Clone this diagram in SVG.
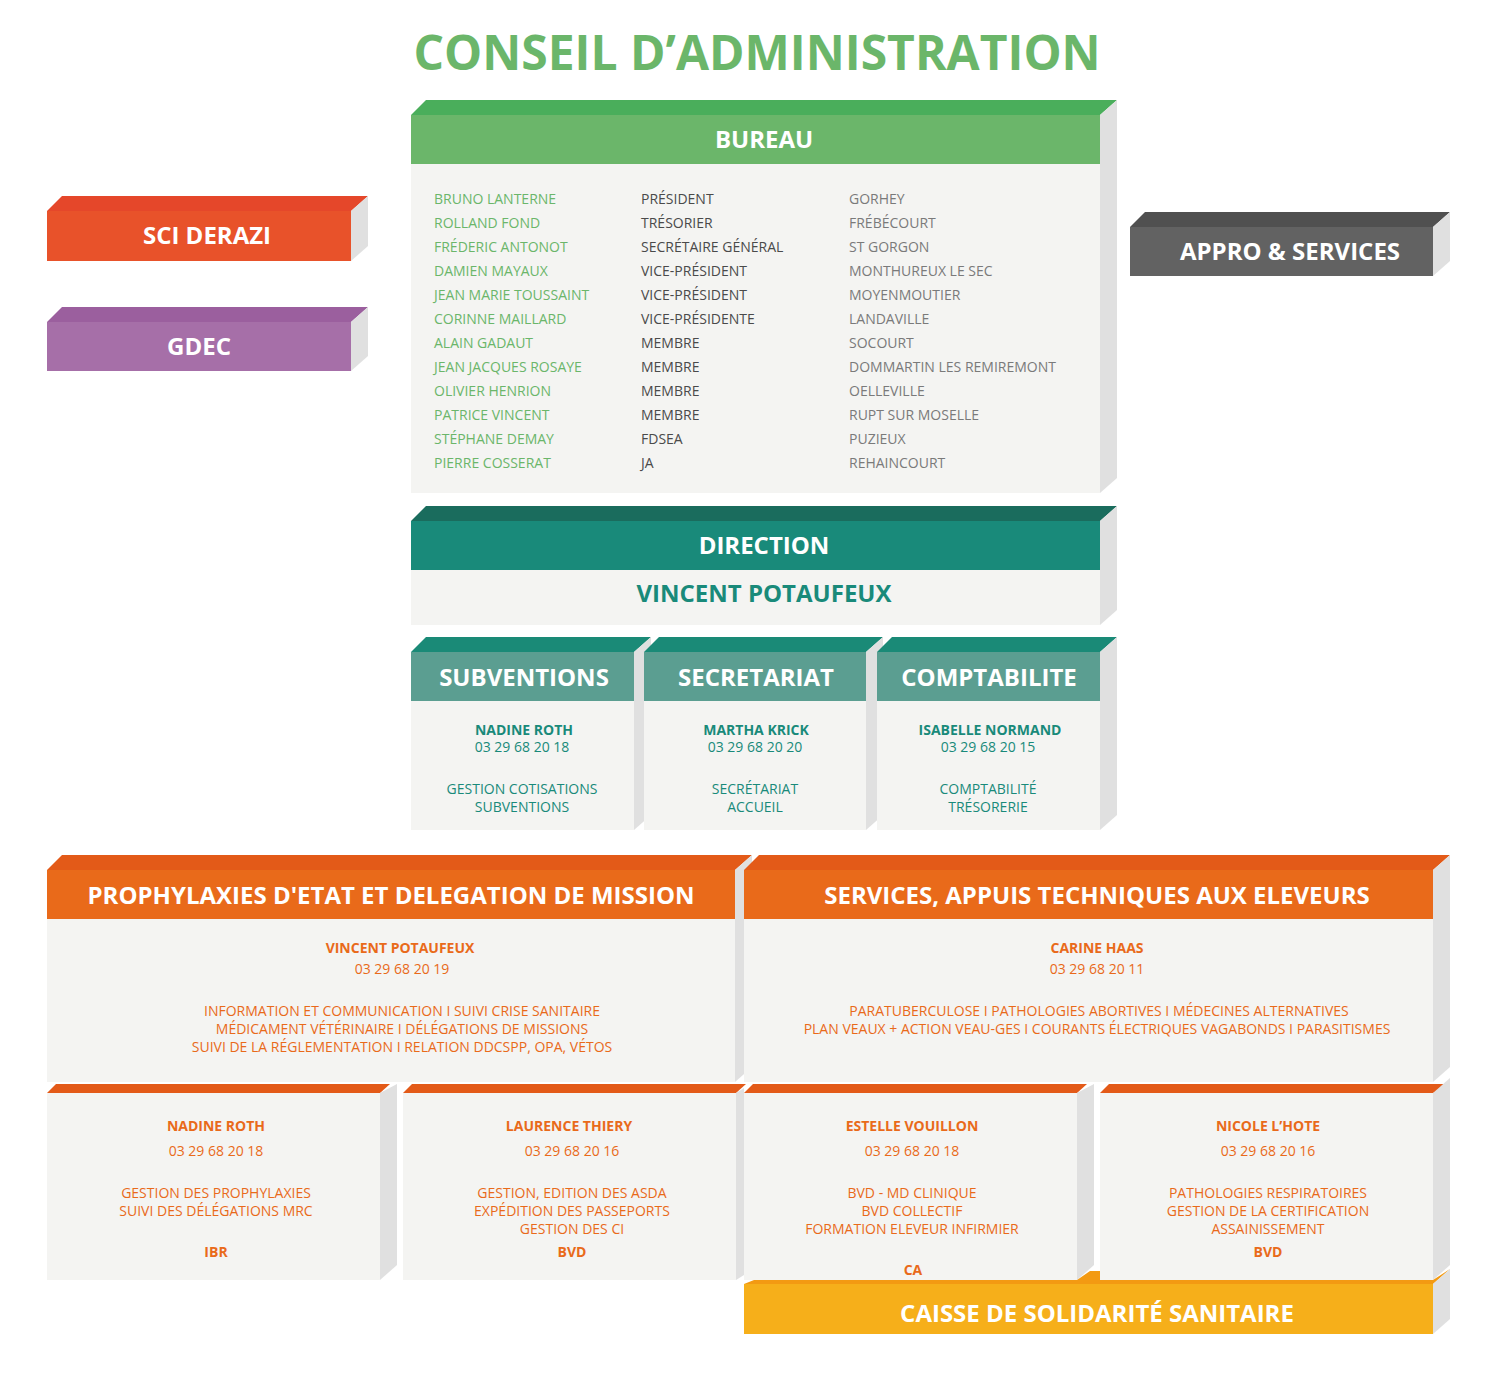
<svg xmlns="http://www.w3.org/2000/svg" width="1500" height="1373" viewBox="0 0 1500 1373">
<style>
text{font-family:"Open Sans","Liberation Sans",sans-serif}
.side{fill:#E0E0E0}
.body{fill:#F4F4F2}
.h{font-weight:bold;fill:#fff;font-size:24px;text-anchor:middle}
.g{fill:#6BB66A;font-size:14px}
.k{fill:#4A4A4A;font-size:14px}
.l{fill:#7A7A7A;font-size:14px}
.t{fill:#198A7A;font-size:14px;text-anchor:middle}
.tb{fill:#198A7A;font-size:14px;font-weight:bold;text-anchor:middle}
.o{fill:#E96A1A;font-size:14px;text-anchor:middle}
.ob{fill:#E96A1A;font-size:14px;font-weight:bold;text-anchor:middle}
</style>
<rect width="1500" height="1373" fill="#fff"/>
<text x="757" y="70" text-anchor="middle" font-size="48" font-weight="bold" fill="#6BB66A">CONSEIL D’ADMINISTRATION</text>

<g id="bureau">
<polygon points="411,115 426,100 1117,100 1100,115" fill="#4AAE5B"/>
<polygon class="side" points="1100,115 1117,100 1117,478 1100,493"/>
<rect x="411" y="115" width="689" height="49" fill="#6BB66A"/>
<rect class="body" x="411" y="164" width="689" height="329"/>
<text class="h" x="764" y="148">BUREAU</text>
<g class="g">
<text x="434" y="204">BRUNO LANTERNE</text><text x="434" y="228">ROLLAND FOND</text><text x="434" y="252">FRÉDERIC ANTONOT</text><text x="434" y="276">DAMIEN MAYAUX</text><text x="434" y="300">JEAN MARIE TOUSSAINT</text><text x="434" y="324">CORINNE MAILLARD</text><text x="434" y="348">ALAIN GADAUT</text><text x="434" y="372">JEAN JACQUES ROSAYE</text><text x="434" y="396">OLIVIER HENRION</text><text x="434" y="420">PATRICE VINCENT</text><text x="434" y="444">STÉPHANE DEMAY</text><text x="434" y="468">PIERRE COSSERAT</text>
</g>
<g class="k">
<text x="641" y="204">PRÉSIDENT</text><text x="641" y="228">TRÉSORIER</text><text x="641" y="252">SECRÉTAIRE GÉNÉRAL</text><text x="641" y="276">VICE-PRÉSIDENT</text><text x="641" y="300">VICE-PRÉSIDENT</text><text x="641" y="324">VICE-PRÉSIDENTE</text><text x="641" y="348">MEMBRE</text><text x="641" y="372">MEMBRE</text><text x="641" y="396">MEMBRE</text><text x="641" y="420">MEMBRE</text><text x="641" y="444">FDSEA</text><text x="641" y="468">JA</text>
</g>
<g class="l">
<text x="849" y="204">GORHEY</text><text x="849" y="228">FRÉBÉCOURT</text><text x="849" y="252">ST GORGON</text><text x="849" y="276">MONTHUREUX LE SEC</text><text x="849" y="300">MOYENMOUTIER</text><text x="849" y="324">LANDAVILLE</text><text x="849" y="348">SOCOURT</text><text x="849" y="372">DOMMARTIN LES REMIREMONT</text><text x="849" y="396">OELLEVILLE</text><text x="849" y="420">RUPT SUR MOSELLE</text><text x="849" y="444">PUZIEUX</text><text x="849" y="468">REHAINCOURT</text>
</g>
</g>

<g id="sci">
<polygon points="47,211 62,196 368,196 351,211" fill="#E5472A"/>
<polygon class="side" points="351,211 368,196 368,246 351,261"/>
<rect x="47" y="211" width="304" height="50" fill="#E8522A"/>
<text class="h" x="207" y="244">SCI DERAZI</text>
</g>
<g id="gdec">
<polygon points="47,322 62,307 368,307 351,322" fill="#9B5F9E"/>
<polygon class="side" points="351,322 368,307 368,356 351,371"/>
<rect x="47" y="322" width="304" height="49" fill="#A66FA8"/>
<text class="h" x="199" y="355">GDEC</text>
</g>
<g id="appro">
<polygon points="1130,227 1145,212 1450,212 1433,227" fill="#505050"/>
<polygon class="side" points="1433,227 1450,212 1450,261 1433,276"/>
<rect x="1130" y="227" width="303" height="49" fill="#626262"/>
<text class="h" x="1290" y="260">APPRO &amp; SERVICES</text>
</g>

<g id="direction">
<polygon points="411,521 426,506 1117,506 1100,521" fill="#1A6C5D"/>
<polygon class="side" points="1100,521 1117,506 1117,610 1100,625"/>
<rect x="411" y="521" width="689" height="49" fill="#198A7A"/>
<rect class="body" x="411" y="570" width="689" height="55"/>
<text class="h" x="764" y="554">DIRECTION</text>
<text x="764" y="602" text-anchor="middle" font-size="24" font-weight="bold" fill="#198A7A">VINCENT POTAUFEUX</text>
</g>

<g id="subventions">
<polygon points="411,652 426,637 651,637 634,652" fill="#1A8A77"/>
<polygon class="side" points="634,652 651,637 651,815 634,830"/>
<rect x="411" y="652" width="223" height="49" fill="#5B9E91"/>
<rect class="body" x="411" y="701" width="223" height="129"/>
<text class="h" x="524" y="686">SUBVENTIONS</text>
<text class="tb" x="524" y="735">NADINE ROTH</text><text class="t" x="522" y="752">03 29 68 20 18</text>
<text class="t" x="522" y="794">GESTION COTISATIONS</text><text class="t" x="522" y="812">SUBVENTIONS</text>
</g>
<g id="secretariat">
<polygon points="644,652 659,637 883,637 866,652" fill="#1A8A77"/>
<polygon class="side" points="866,652 883,637 883,815 866,830"/>
<rect x="644" y="652" width="222" height="49" fill="#5B9E91"/>
<rect class="body" x="644" y="701" width="222" height="129"/>
<text class="h" x="756" y="686">SECRETARIAT</text>
<text class="tb" x="756" y="735">MARTHA KRICK</text><text class="t" x="755" y="752">03 29 68 20 20</text>
<text class="t" x="755" y="794">SECRÉTARIAT</text><text class="t" x="755" y="812">ACCUEIL</text>
</g>
<g id="comptabilite">
<polygon points="877,652 892,637 1117,637 1100,652" fill="#1A8A77"/>
<polygon class="side" points="1100,652 1117,637 1117,815 1100,830"/>
<rect x="877" y="652" width="223" height="49" fill="#5B9E91"/>
<rect class="body" x="877" y="701" width="223" height="129"/>
<text class="h" x="989" y="686">COMPTABILITE</text>
<text class="tb" x="990" y="735">ISABELLE NORMAND</text><text class="t" x="988" y="752">03 29 68 20 15</text>
<text class="t" x="988" y="794">COMPTABILITÉ</text><text class="t" x="988" y="812">TRÉSORERIE</text>
</g>

<g id="prophylaxies">
<polygon points="47,870 62,855 752,855 735,870" fill="#E35A18"/>
<polygon class="side" points="735,870 752,855 752,1067 735,1082"/>
<rect x="47" y="870" width="688" height="49" fill="#E96A1A"/>
<rect class="body" x="47" y="919" width="688" height="163"/>
<text class="h" x="391" y="904">PROPHYLAXIES D'ETAT ET DELEGATION DE MISSION</text>
<text class="ob" x="400" y="953">VINCENT POTAUFEUX</text><text class="o" x="402" y="974">03 29 68 20 19</text>
<text class="o" x="402" y="1016">INFORMATION ET COMMUNICATION  I  SUIVI CRISE SANITAIRE</text>
<text class="o" x="402" y="1034">MÉDICAMENT VÉTÉRINAIRE  I  DÉLÉGATIONS DE MISSIONS</text>
<text class="o" x="402" y="1052">SUIVI DE LA RÉGLEMENTATION  I  RELATION DDCSPP, OPA, VÉTOS</text>
</g>
<g id="services">
<polygon points="744,870 759,855 1450,855 1433,870" fill="#E35A18"/>
<polygon class="side" points="1433,870 1450,855 1450,1067 1433,1082"/>
<rect x="744" y="870" width="689" height="49" fill="#E96A1A"/>
<rect class="body" x="744" y="919" width="689" height="163"/>
<text class="h" x="1097" y="904">SERVICES, APPUIS TECHNIQUES AUX ELEVEURS</text>
<text class="ob" x="1097" y="953">CARINE HAAS</text><text class="o" x="1097" y="974">03 29 68 20 11</text>
<text class="o" x="1099" y="1016">PARATUBERCULOSE  I   PATHOLOGIES ABORTIVES  I  MÉDECINES ALTERNATIVES</text>
<text class="o" x="1097" y="1034">PLAN VEAUX  + ACTION VEAU-GES  I  COURANTS ÉLECTRIQUES VAGABONDS  I  PARASITISMES</text>
</g>

<g id="nadine">
<polygon points="47,1093 56,1084 390,1084 380,1093" fill="#E35A18"/>
<polygon class="side" points="380,1093 397,1084 397,1265 380,1280"/>
<rect class="body" x="47" y="1093" width="333" height="187"/>
<text class="ob" x="216" y="1131">NADINE ROTH</text><text class="o" x="216" y="1156">03 29 68 20 18</text>
<text class="o" x="216" y="1198">GESTION DES PROPHYLAXIES</text><text class="o" x="216" y="1216">SUIVI DES DÉLÉGATIONS MRC</text>
<text class="ob" x="216" y="1257">IBR</text>
</g>
<g id="laurence">
<polygon points="403,1093 412,1084 746,1084 736,1093" fill="#E35A18"/>
<polygon class="side" points="736,1093 744,1088 744,1275 736,1280"/>
<rect class="body" x="403" y="1093" width="333" height="187"/>
<text class="ob" x="569" y="1131">LAURENCE THIERY</text><text class="o" x="572" y="1156">03 29 68 20 16</text>
<text class="o" x="572" y="1198">GESTION, EDITION DES ASDA</text><text class="o" x="572" y="1216">EXPÉDITION DES PASSEPORTS</text><text class="o" x="572" y="1234">GESTION DES CI</text>
<text class="ob" x="572" y="1257">BVD</text>
</g>
<g id="estelle">
<polygon points="744,1093 753,1084 1087,1084 1077,1093" fill="#E35A18"/>
<polygon class="side" points="1077,1093 1094,1084 1094,1265 1077,1280"/>
<rect class="body" x="744" y="1093" width="333" height="187"/>
<text class="ob" x="912" y="1131">ESTELLE VOUILLON</text><text class="o" x="912" y="1156">03 29 68 20 18</text>
<text class="o" x="912" y="1198">BVD - MD CLINIQUE</text><text class="o" x="912" y="1216">BVD COLLECTIF</text><text class="o" x="912" y="1234">FORMATION ELEVEUR INFIRMIER</text>
<text class="ob" x="913" y="1275">CA</text>
</g>
<g id="nicole">
<polygon points="1100,1093 1109,1084 1450,1084 1433,1093" fill="#E35A18"/>
<polygon class="side" points="1433,1093 1450,1078 1450,1265 1433,1280"/>
<rect class="body" x="1100" y="1093" width="333" height="187"/>
<text class="ob" x="1268" y="1131">NICOLE L’HOTE</text><text class="o" x="1268" y="1156">03 29 68 20 16</text>
<text class="o" x="1268" y="1198">PATHOLOGIES RESPIRATOIRES</text><text class="o" x="1268" y="1216">GESTION DE LA CERTIFICATION</text><text class="o" x="1268" y="1234">ASSAINISSEMENT</text>
<text class="ob" x="1268" y="1257">BVD</text>
</g>
<g id="caisse">
<polygon points="744,1284 754,1280 1077,1280 1090,1271 1100,1271 1100,1280 1433,1280 1450,1269 1433,1284" fill="#F39A12"/>
<polygon class="side" points="1433,1284 1450,1269 1450,1319 1433,1334"/>
<rect x="744" y="1284" width="689" height="50" fill="#F6AF1A"/>
<text class="h" x="1097" y="1322">CAISSE DE SOLIDARITÉ SANITAIRE</text>
</g>
<g id="connectors"/>
</svg>
